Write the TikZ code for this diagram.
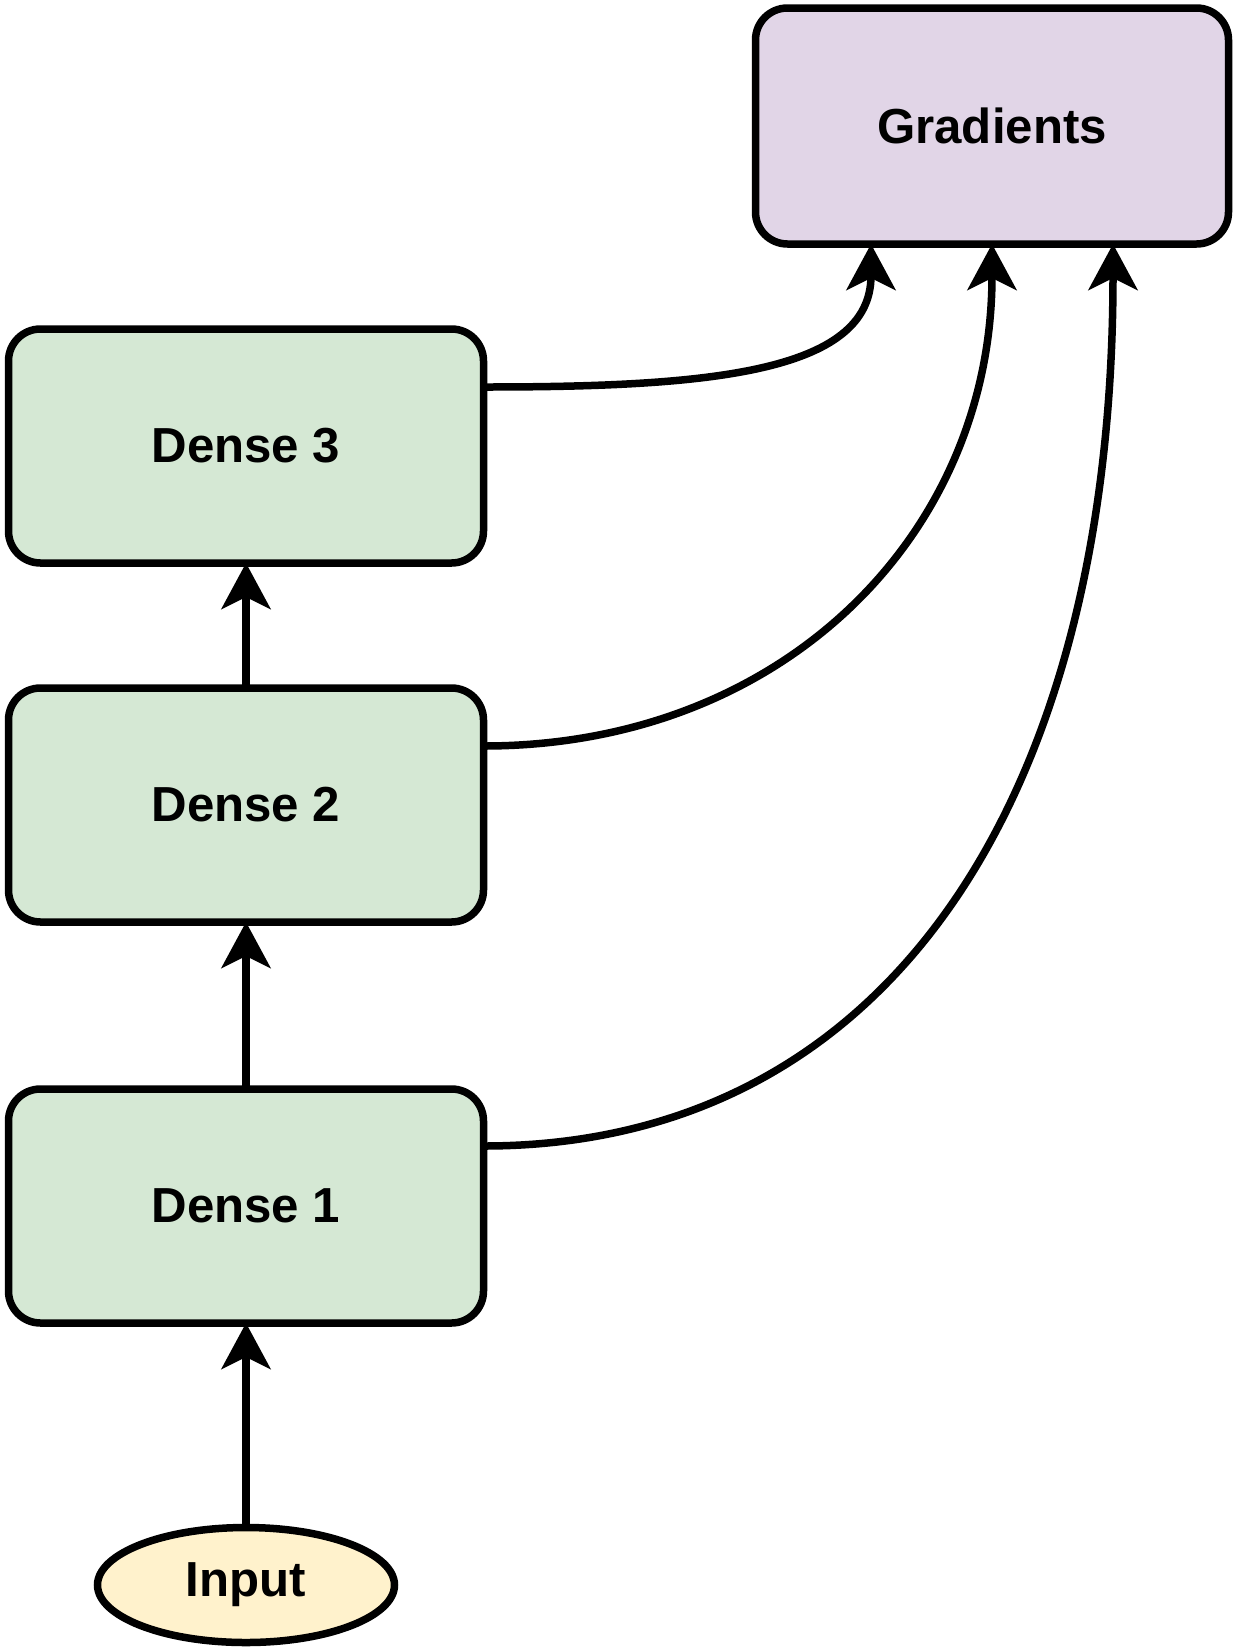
\documentclass[tikz,border=0pt]{standalone}
\usepackage{fontspec}
\setmainfont{Liberation Sans}
\usetikzlibrary{positioning,arrows.meta,shapes.geometric}
\definecolor{layergreen}{HTML}{D5E8D4}
\definecolor{gradpurple}{HTML}{E1D5E7}
\definecolor{inputyellow}{HTML}{FFF2CC}

\begin{document}
\begin{tikzpicture}[
    font=\bfseries\fontsize{14}{17}\selectfont,
    line width=0.075cm,
    layer/.style={
      draw=black, rounded corners=0.32cm, fill=layergreen,
      inner sep=0pt, outer sep=0pt,
      minimum width=4.75cm, minimum height=2.34cm
    },
    grad/.style={
      draw=black, rounded corners=0.32cm, fill=gradpurple,
      inner sep=0pt, outer sep=0pt,
      minimum width=4.73cm, minimum height=2.36cm
    },
    inp/.style={
      draw=black, ellipse, fill=inputyellow,
      inner sep=0pt, outer sep=0pt,
      minimum width=2.97cm, minimum height=1.15cm
    },
    flow/.style={-{Stealth[length=0.46cm, width=0.49cm, inset=0.12cm]}},
  ]
    \useasboundingbox (0,0) rectangle (12.36,-16.48);

    %── Layers ──────────────────────────────────────────────────────────
    \node[grad]  (gradients) at (9.92,-1.26)  {Gradients};
    \node[layer] (dense3)    at (2.46,-4.46)  {Dense 3};
    \node[layer] (dense2)    at (2.46,-8.05)  {Dense 2};
    \node[layer] (dense1)    at (2.46,-12.06) {Dense 1};
    \node[inp]   (input)     at (2.46,-15.85) {Input};

    %── Forward path ────────────────────────────────────────────────────
    \draw[flow] (input.north)  -- (dense1.south);
    \draw[flow] (dense1.north) -- (dense2.south);
    \draw[flow] (dense2.north) -- (dense3.south);

    %── Curves into the gradients box ───────────────────────────────────
    \draw[flow] ([yshift=0.59cm]dense3.east)
      .. controls +(2.2,0) and +(0,-1.3) .. ([xshift=-1.21cm]gradients.south);
    \draw[flow] ([yshift=0.59cm]dense2.east)
      .. controls +(3.0,0) and +(0,-2.9) .. (gradients.south);
    \draw[flow] ([yshift=0.60cm]dense1.east)
      .. controls +(4.06,0) and +(0,-5.52) .. ([xshift=1.21cm]gradients.south);

  \end{tikzpicture}
\end{document}
